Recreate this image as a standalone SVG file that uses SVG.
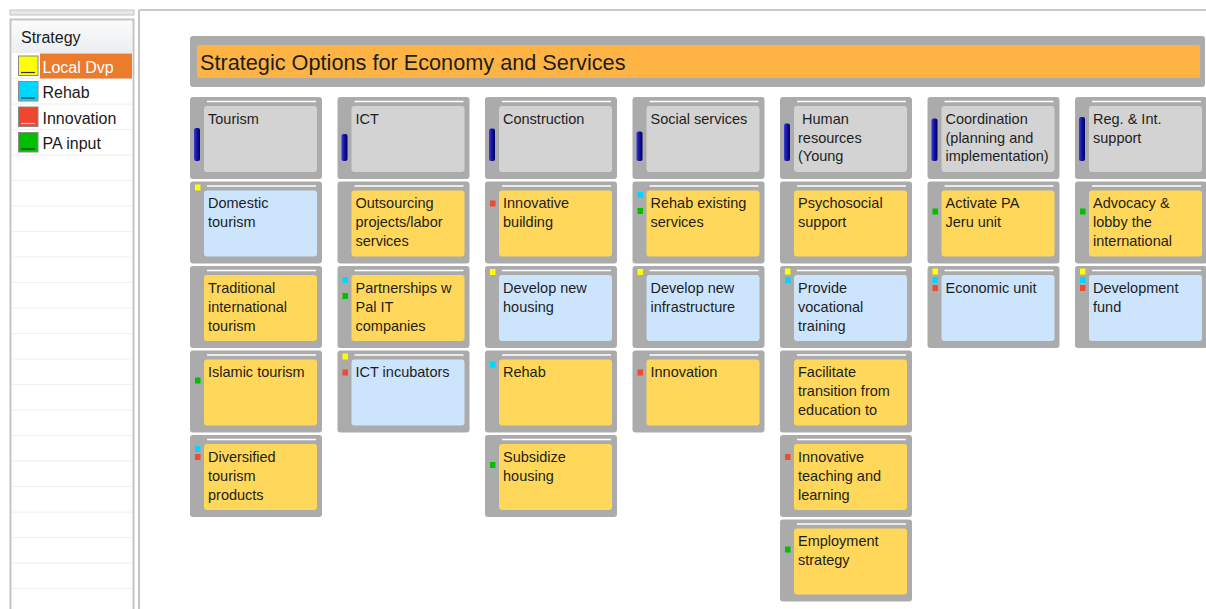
<svg xmlns="http://www.w3.org/2000/svg" width="1206" height="609" viewBox="0 0 1206 609">
<defs>
<linearGradient id="barG" x1="0" y1="0" x2="1" y2="0">
<stop offset="0" stop-color="#3a3ad0"/><stop offset="0.5" stop-color="#1212a0"/><stop offset="1" stop-color="#000060"/>
</linearGradient>
<linearGradient id="hdrG" x1="0" y1="0" x2="0" y2="1">
<stop offset="0" stop-color="#fbfbfb"/><stop offset="1" stop-color="#eceef2"/>
</linearGradient>
</defs>
<style>
text{font-family:"Liberation Sans",Arial,sans-serif;}
.card{fill:#ababab;}
.hl{stroke:#ffffff;stroke-width:1.6;}
.hdr{fill:#d3d3d3;}
.blu{fill:#cce5fd;}
.yel{fill:#ffd75a;}
.bar{fill:url(#barG);}
.t{font-size:14.5px;fill:#1e1e1e;}
.my{fill:#ffff00;}
.mc{fill:#00d6ff;}
.mr{fill:#f04a33;}
.mg{fill:#00c000;}
.lg{font-size:16px;fill:#1a1a1a;}
.row{stroke:#eeeeee;stroke-width:1;}
.sw{stroke:#8a8a8a;stroke-width:1;}
</style>
<rect width="1206" height="609" fill="#ffffff"/>

<!-- left legend panel -->
<g id="legend">
<rect x="10" y="10" width="124" height="5" fill="#e6e6e6" stroke="#c4c4c4" stroke-width="1"/>
<rect x="10.5" y="19.5" width="123" height="600" fill="#ffffff" stroke="#c4c4c4" stroke-width="2"/>
<rect x="12" y="21" width="120" height="31" fill="url(#hdrG)"/>
<text x="21" y="43" class="lg">Strategy</text>
<line x1="12" y1="52.5" x2="132" y2="52.5" class="row"/>
<line x1="12" y1="78.5" x2="132" y2="78.5" class="row"/>
<line x1="12" y1="104" x2="132" y2="104" class="row"/>
<line x1="12" y1="129.5" x2="132" y2="129.5" class="row"/>
<line x1="12" y1="155" x2="132" y2="155" class="row"/>
<line x1="12" y1="180.5" x2="132" y2="180.5" class="row"/>
<line x1="12" y1="206" x2="132" y2="206" class="row"/>
<line x1="12" y1="231.5" x2="132" y2="231.5" class="row"/>
<line x1="12" y1="257" x2="132" y2="257" class="row"/>
<line x1="12" y1="282.5" x2="132" y2="282.5" class="row"/>
<line x1="12" y1="308" x2="132" y2="308" class="row"/>
<line x1="12" y1="333.5" x2="132" y2="333.5" class="row"/>
<line x1="12" y1="359" x2="132" y2="359" class="row"/>
<line x1="12" y1="384.5" x2="132" y2="384.5" class="row"/>
<line x1="12" y1="410" x2="132" y2="410" class="row"/>
<line x1="12" y1="435.5" x2="132" y2="435.5" class="row"/>
<line x1="12" y1="461" x2="132" y2="461" class="row"/>
<line x1="12" y1="486.5" x2="132" y2="486.5" class="row"/>
<line x1="12" y1="512" x2="132" y2="512" class="row"/>
<line x1="12" y1="537.5" x2="132" y2="537.5" class="row"/>
<line x1="12" y1="563" x2="132" y2="563" class="row"/>
<line x1="12" y1="588.5" x2="132" y2="588.5" class="row"/>
<rect x="40" y="53.5" width="92" height="25" fill="#eb7b2d"/>
<rect x="18.5" y="56" width="19.5" height="19.5" fill="#ffff00" class="sw"/>
<line x1="21" y1="72.5" x2="35" y2="72.5" stroke="#333" stroke-width="1.2"/>
<text x="42.5" y="72.7" class="lg" style="fill:#ffffff">Local Dvp</text>
<rect x="18.5" y="81.5" width="19.5" height="19.5" fill="#00d6ff" class="sw"/>
<line x1="21" y1="98" x2="35" y2="98" stroke="#333" stroke-width="1.2"/>
<text x="42.5" y="98.3" class="lg">Rehab</text>
<rect x="18.5" y="107" width="19.5" height="19.5" fill="#ef4630" class="sw"/>
<line x1="21" y1="123.5" x2="35" y2="123.5" stroke="#f6c0b8" stroke-width="1.2"/>
<text x="42.5" y="123.6" class="lg">Innovation</text>
<rect x="18.5" y="132.5" width="19.5" height="19.5" fill="#00c000" class="sw"/>
<line x1="21" y1="149" x2="35" y2="149" stroke="#333" stroke-width="1.2"/>
<text x="42.5" y="149" class="lg">PA input</text>
</g>

<!-- main frame -->
<g id="frame">
<line x1="139" y1="10" x2="139" y2="609" stroke="#c4c4c4" stroke-width="2"/>
<line x1="139" y1="10" x2="1206" y2="10" stroke="#c8c8c8" stroke-width="2"/>
</g>

<g id="title">
<rect x="190" y="36" width="1015" height="51" rx="3" class="card"/>
<rect x="197" y="45" width="1003" height="33" rx="2" fill="#fdb444"/>
<text x="200" y="69.5" font-size="21.7" fill="#1e1e1e">Strategic Options for Economy and Services</text>
</g>

<g id="connectors"></g>

<!-- Column 1: Tourism -->
<g id="tourism">
<rect x="190" y="97" width="132" height="82" rx="3" class="card"/>
<line x1="207" y1="101.5" x2="316" y2="101.5" class="hl"/>
<rect x="204" y="106" width="113" height="66" rx="3" class="hdr"/>
<rect x="194" y="128" width="6" height="33" rx="2" class="bar"/>
<text x="208" y="123.6" class="t">Tourism</text>
</g>
<g id="domestic-tourism">
<rect x="190" y="181.5" width="132" height="82" rx="3" class="card"/>
<line x1="207" y1="186" x2="316" y2="186" class="hl"/>
<rect x="204" y="190.5" width="113" height="66" rx="3" class="blu"/>
<rect x="195" y="184.5" width="5.5" height="6" class="my"/>
<text x="208" y="208.2" class="t">Domestic</text>
<text x="208" y="227.1" class="t">tourism</text>
</g>
<g id="traditional-tourism">
<rect x="190" y="266" width="132" height="82" rx="3" class="card"/>
<line x1="207" y1="270.5" x2="316" y2="270.5" class="hl"/>
<rect x="204" y="275" width="113" height="66" rx="3" class="yel"/>
<text x="208" y="292.7" class="t">Traditional</text>
<text x="208" y="311.6" class="t">international</text>
<text x="208" y="330.5" class="t">tourism</text>
</g>
<g id="islamic-tourism">
<rect x="190" y="350.5" width="132" height="82" rx="3" class="card"/>
<line x1="207" y1="355" x2="316" y2="355" class="hl"/>
<rect x="204" y="359.5" width="113" height="66" rx="3" class="yel"/>
<rect x="195" y="377.5" width="5.5" height="6" class="mg"/>
<text x="208" y="377.2" class="t">Islamic tourism</text>
</g>
<g id="diversified-tourism">
<rect x="190" y="435" width="132" height="82" rx="3" class="card"/>
<line x1="207" y1="439.5" x2="316" y2="439.5" class="hl"/>
<rect x="204" y="444" width="113" height="66" rx="3" class="yel"/>
<rect x="195" y="446" width="5.5" height="6" class="mc"/>
<rect x="195" y="454" width="5.5" height="6" class="mr"/>
<text x="208" y="461.7" class="t">Diversified</text>
<text x="208" y="480.6" class="t">tourism</text>
<text x="208" y="499.5" class="t">products</text>
</g>

<!-- Column 2: ICT -->
<g id="ict">
<rect x="337.5" y="97" width="132" height="82" rx="3" class="card"/>
<line x1="354.5" y1="101.5" x2="463.5" y2="101.5" class="hl"/>
<rect x="351.5" y="106" width="113" height="66" rx="3" class="hdr"/>
<rect x="341.5" y="134" width="6" height="27" rx="2" class="bar"/>
<text x="355.5" y="123.6" class="t">ICT</text>
</g>
<g id="outsourcing">
<rect x="337.5" y="181.5" width="132" height="82" rx="3" class="card"/>
<line x1="354.5" y1="186" x2="463.5" y2="186" class="hl"/>
<rect x="351.5" y="190.5" width="113" height="66" rx="3" class="yel"/>
<text x="355.5" y="208.2" class="t">Outsourcing</text>
<text x="355.5" y="227.1" class="t">projects/labor</text>
<text x="355.5" y="246" class="t">services</text>
</g>
<g id="partnerships">
<rect x="337.5" y="266" width="132" height="82" rx="3" class="card"/>
<line x1="354.5" y1="270.5" x2="463.5" y2="270.5" class="hl"/>
<rect x="351.5" y="275" width="113" height="66" rx="3" class="yel"/>
<rect x="342.5" y="277" width="5.5" height="6" class="mc"/>
<rect x="342.5" y="293" width="5.5" height="6" class="mg"/>
<text x="355.5" y="292.7" class="t">Partnerships w</text>
<text x="355.5" y="311.6" class="t">Pal IT</text>
<text x="355.5" y="330.5" class="t">companies</text>
</g>
<g id="ict-incubators">
<rect x="337.5" y="350.5" width="132" height="82" rx="3" class="card"/>
<line x1="354.5" y1="355" x2="463.5" y2="355" class="hl"/>
<rect x="351.5" y="359.5" width="113" height="66" rx="3" class="blu"/>
<rect x="342.5" y="353.5" width="5.5" height="6" class="my"/>
<rect x="342.5" y="369.5" width="5.5" height="6" class="mr"/>
<text x="355.5" y="377.2" class="t">ICT incubators</text>
</g>

<!-- Column 3: Construction -->
<g id="construction">
<rect x="485" y="97" width="132" height="82" rx="3" class="card"/>
<line x1="502" y1="101.5" x2="611" y2="101.5" class="hl"/>
<rect x="499" y="106" width="113" height="66" rx="3" class="hdr"/>
<rect x="489" y="128.5" width="6" height="32.5" rx="2" class="bar"/>
<text x="503" y="123.6" class="t">Construction</text>
</g>
<g id="innovative-building">
<rect x="485" y="181.5" width="132" height="82" rx="3" class="card"/>
<line x1="502" y1="186" x2="611" y2="186" class="hl"/>
<rect x="499" y="190.5" width="113" height="66" rx="3" class="yel"/>
<rect x="490" y="200.5" width="5.5" height="6" class="mr"/>
<text x="503" y="208.2" class="t">Innovative</text>
<text x="503" y="227.1" class="t">building</text>
</g>
<g id="develop-housing">
<rect x="485" y="266" width="132" height="82" rx="3" class="card"/>
<line x1="502" y1="270.5" x2="611" y2="270.5" class="hl"/>
<rect x="499" y="275" width="113" height="66" rx="3" class="blu"/>
<rect x="490" y="269" width="5.5" height="6" class="my"/>
<text x="503" y="292.7" class="t">Develop new</text>
<text x="503" y="311.6" class="t">housing</text>
</g>
<g id="rehab">
<rect x="485" y="350.5" width="132" height="82" rx="3" class="card"/>
<line x1="502" y1="355" x2="611" y2="355" class="hl"/>
<rect x="499" y="359.5" width="113" height="66" rx="3" class="yel"/>
<rect x="490" y="361.5" width="5.5" height="6" class="mc"/>
<text x="503" y="377.2" class="t">Rehab</text>
</g>
<g id="subsidize-housing">
<rect x="485" y="435" width="132" height="82" rx="3" class="card"/>
<line x1="502" y1="439.5" x2="611" y2="439.5" class="hl"/>
<rect x="499" y="444" width="113" height="66" rx="3" class="yel"/>
<rect x="490" y="462" width="5.5" height="6" class="mg"/>
<text x="503" y="461.7" class="t">Subsidize</text>
<text x="503" y="480.6" class="t">housing</text>
</g>

<!-- Column 4: Social services -->
<g id="social-services">
<rect x="632.5" y="97" width="132" height="82" rx="3" class="card"/>
<line x1="649.5" y1="101.5" x2="758.5" y2="101.5" class="hl"/>
<rect x="646.5" y="106" width="113" height="66" rx="3" class="hdr"/>
<rect x="636.5" y="131.5" width="6" height="29.5" rx="2" class="bar"/>
<text x="650.5" y="123.6" class="t">Social services</text>
</g>
<g id="rehab-existing">
<rect x="632.5" y="181.5" width="132" height="82" rx="3" class="card"/>
<line x1="649.5" y1="186" x2="758.5" y2="186" class="hl"/>
<rect x="646.5" y="190.5" width="113" height="66" rx="3" class="yel"/>
<rect x="637.5" y="192" width="5.5" height="6" class="mc"/>
<rect x="637.5" y="208" width="5.5" height="6" class="mg"/>
<text x="650.5" y="208.2" class="t">Rehab existing</text>
<text x="650.5" y="227.1" class="t">services</text>
</g>
<g id="develop-infrastructure">
<rect x="632.5" y="266" width="132" height="82" rx="3" class="card"/>
<line x1="649.5" y1="270.5" x2="758.5" y2="270.5" class="hl"/>
<rect x="646.5" y="275" width="113" height="66" rx="3" class="blu"/>
<rect x="637.5" y="269" width="5.5" height="6" class="my"/>
<text x="650.5" y="292.7" class="t">Develop new</text>
<text x="650.5" y="311.6" class="t">infrastructure</text>
</g>
<g id="innovation">
<rect x="632.5" y="350.5" width="132" height="82" rx="3" class="card"/>
<line x1="649.5" y1="355" x2="758.5" y2="355" class="hl"/>
<rect x="646.5" y="359.5" width="113" height="66" rx="3" class="yel"/>
<rect x="637.5" y="369.5" width="5.5" height="6" class="mr"/>
<text x="650.5" y="377.2" class="t">Innovation</text>
</g>

<!-- Column 5: Human resources -->
<g id="human-resources">
<rect x="780" y="97" width="132" height="82" rx="3" class="card"/>
<line x1="797" y1="101.5" x2="906" y2="101.5" class="hl"/>
<rect x="794" y="106" width="113" height="66" rx="3" class="hdr"/>
<rect x="784" y="123.5" width="6" height="37.5" rx="2" class="bar"/>
<text x="798" y="123.6" class="t" xml:space="preserve"> Human</text>
<text x="798" y="142.5" class="t">resources</text>
<text x="798" y="161.4" class="t">(Young</text>
</g>
<g id="psychosocial">
<rect x="780" y="181.5" width="132" height="82" rx="3" class="card"/>
<line x1="797" y1="186" x2="906" y2="186" class="hl"/>
<rect x="794" y="190.5" width="113" height="66" rx="3" class="yel"/>
<text x="798" y="208.2" class="t">Psychosocial</text>
<text x="798" y="227.1" class="t">support</text>
</g>
<g id="vocational-training">
<rect x="780" y="266" width="132" height="82" rx="3" class="card"/>
<line x1="797" y1="270.5" x2="906" y2="270.5" class="hl"/>
<rect x="794" y="275" width="113" height="66" rx="3" class="blu"/>
<rect x="785" y="268.5" width="5.5" height="6" class="my"/>
<rect x="785" y="277" width="5.5" height="6" class="mc"/>
<text x="798" y="292.7" class="t">Provide</text>
<text x="798" y="311.6" class="t">vocational</text>
<text x="798" y="330.5" class="t">training</text>
</g>
<g id="facilitate-transition">
<rect x="780" y="350.5" width="132" height="82" rx="3" class="card"/>
<line x1="797" y1="355" x2="906" y2="355" class="hl"/>
<rect x="794" y="359.5" width="113" height="66" rx="3" class="yel"/>
<text x="798" y="377.2" class="t">Facilitate</text>
<text x="798" y="396.1" class="t">transition from</text>
<text x="798" y="415" class="t">education to</text>
</g>
<g id="innovative-teaching">
<rect x="780" y="435" width="132" height="82" rx="3" class="card"/>
<line x1="797" y1="439.5" x2="906" y2="439.5" class="hl"/>
<rect x="794" y="444" width="113" height="66" rx="3" class="yel"/>
<rect x="785" y="454" width="5.5" height="6" class="mr"/>
<text x="798" y="461.7" class="t">Innovative</text>
<text x="798" y="480.6" class="t">teaching and</text>
<text x="798" y="499.5" class="t">learning</text>
</g>
<g id="employment-strategy">
<rect x="780" y="519.5" width="132" height="82" rx="3" class="card"/>
<line x1="797" y1="524" x2="906" y2="524" class="hl"/>
<rect x="794" y="528.5" width="113" height="66" rx="3" class="yel"/>
<rect x="785" y="546.5" width="5.5" height="6" class="mg"/>
<text x="798" y="546.2" class="t">Employment</text>
<text x="798" y="565.1" class="t">strategy</text>
</g>

<!-- Column 6: Coordination -->
<g id="coordination">
<rect x="927.5" y="97" width="132" height="82" rx="3" class="card"/>
<line x1="944.5" y1="101.5" x2="1053.5" y2="101.5" class="hl"/>
<rect x="941.5" y="106" width="113" height="66" rx="3" class="hdr"/>
<rect x="931.5" y="118.5" width="6" height="42.5" rx="2" class="bar"/>
<text x="945.5" y="123.6" class="t">Coordination</text>
<text x="945.5" y="142.5" class="t">(planning and</text>
<text x="945.5" y="161.4" class="t">implementation)</text>
</g>
<g id="activate-pa">
<rect x="927.5" y="181.5" width="132" height="82" rx="3" class="card"/>
<line x1="944.5" y1="186" x2="1053.5" y2="186" class="hl"/>
<rect x="941.5" y="190.5" width="113" height="66" rx="3" class="yel"/>
<rect x="932.5" y="208.5" width="5.5" height="6" class="mg"/>
<text x="945.5" y="208.2" class="t">Activate PA</text>
<text x="945.5" y="227.1" class="t">Jeru unit</text>
</g>
<g id="economic-unit">
<rect x="927.5" y="266" width="132" height="82" rx="3" class="card"/>
<line x1="944.5" y1="270.5" x2="1053.5" y2="270.5" class="hl"/>
<rect x="941.5" y="275" width="113" height="66" rx="3" class="blu"/>
<rect x="932.5" y="268.5" width="5.5" height="6" class="my"/>
<rect x="932.5" y="277" width="5.5" height="6" class="mc"/>
<rect x="932.5" y="285" width="5.5" height="6" class="mr"/>
<text x="945.5" y="292.7" class="t">Economic unit</text>
</g>

<!-- Column 7: Reg. & Int. support -->
<g id="reg-int-support">
<rect x="1075" y="97" width="132" height="82" rx="3" class="card"/>
<line x1="1092" y1="101.5" x2="1201" y2="101.5" class="hl"/>
<rect x="1089" y="106" width="113" height="66" rx="3" class="hdr"/>
<rect x="1079" y="117" width="6" height="44" rx="2" class="bar"/>
<text x="1093" y="123.6" class="t">Reg. &amp; Int.</text>
<text x="1093" y="142.5" class="t">support</text>
</g>
<g id="advocacy">
<rect x="1075" y="181.5" width="132" height="82" rx="3" class="card"/>
<line x1="1092" y1="186" x2="1201" y2="186" class="hl"/>
<rect x="1089" y="190.5" width="113" height="66" rx="3" class="yel"/>
<rect x="1080" y="208.5" width="5.5" height="6" class="mg"/>
<text x="1093" y="208.2" class="t">Advocacy &amp;</text>
<text x="1093" y="227.1" class="t">lobby the</text>
<text x="1093" y="246" class="t">international</text>
</g>
<g id="development-fund">
<rect x="1075" y="266" width="132" height="82" rx="3" class="card"/>
<line x1="1092" y1="270.5" x2="1201" y2="270.5" class="hl"/>
<rect x="1089" y="275" width="113" height="66" rx="3" class="blu"/>
<rect x="1080" y="268.5" width="5.5" height="6" class="my"/>
<rect x="1080" y="277" width="5.5" height="6" class="mc"/>
<rect x="1080" y="285" width="5.5" height="6" class="mr"/>
<text x="1093" y="292.7" class="t">Development</text>
<text x="1093" y="311.6" class="t">fund</text>
</g>
</svg>
